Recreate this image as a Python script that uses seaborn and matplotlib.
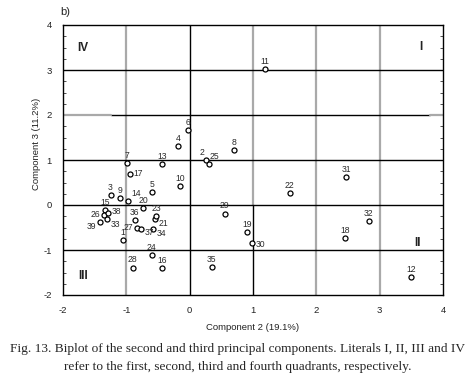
import matplotlib
matplotlib.use("Agg")
import matplotlib.pyplot as plt
import seaborn as sns
import pandas as pd

sample_ids = ["1", "2", "3", "4", "5", "6", "7", "8", "9", "10",
              "11", "12", "13", "14", "15", "16", "17", "18", "19", "20",
              "21", "22", "23", "24", "25", "26", "27", "28", "29", "30",
              "31", "32", "33", "34", "35", "36", "37", "38", "39"]
comp2 = [-1.05, 0.25, -1.25, -0.18, -0.60, -0.02, -0.99, 0.70, -1.10, -0.15,
         1.19, 3.50, -0.43, -0.97, -1.33, -0.44, -0.94, 2.45, 0.91, -0.73,
         -0.55, 1.58, -0.53, -0.60, 0.30, -1.36, -0.83, -0.90, 0.55, 0.99,
         2.47, 2.83, -1.31, -0.58, 0.35, -0.87, -0.77, -1.29, -1.42]
comp3 = [-0.78, 1.00, 0.23, 1.32, 0.29, 1.67, 0.93, 1.22, 0.16, 0.42,
         3.02, -1.61, 0.91, 0.10, -0.12, -1.40, 0.69, -0.73, -0.60, -0.06,
         -0.31, 0.26, -0.25, -1.12, 0.92, -0.22, -0.51, -1.39, -0.19, -0.84,
         0.63, -0.36, -0.32, -0.53, -1.37, -0.33, -0.53, -0.17, -0.38]

quadrant_labels = ["IV", "I", "II", "III"]
quadrant_x = [-1.68, 3.65, 3.60, -1.69]
quadrant_y = [3.49, 3.52, -0.84, -1.58]

x_ticks = [-2, -1, 0, 1, 2, 3, 4]
y_ticks = [-2, -1, 0, 1, 2, 3, 4]

# label placement (offset in points, horizontal alignment) for crowded points
label_place = {
    "15": ((0, 2.2), "center"),
    "26": ((-2.5, 0.0), "right"),
    "38": ((2.5, 0.5), "left"),
    "33": ((2.5, -3.5), "left"),
    "39": ((-2.5, -3.5), "right"),
    "21": ((3.0, -3.0), "left"),
    "23": ((0, 2.2), "center"),
    "27": ((-2.5, 0.0), "right"),
    "37": ((2.5, -2.5), "left"),
    "34": ((2.5, -3.0), "left"),
    "36": ((0, 2.2), "center"),
    "2": ((-1.0, 2.2), "right"),
    "25": ((1.0, 2.2), "left"),
    "30": ((2.5, -1.5), "left"),
    "19": ((0, 2.2), "center"),
    "7": ((0, 2.2), "center"),
    "17": ((2.5, 0.5), "left"),
    "9": ((0, 2.2), "center"),
    "14": ((2.0, 2.0), "left"),
}

df = pd.DataFrame({"id": sample_ids, "c2": comp2, "c3": comp3})

sns.set_style("white")
plt.rcParams["font.family"] = ["Liberation Sans", "DejaVu Sans"]

fig = plt.figure(figsize=(4.75, 3.88), dpi=100)
ax = fig.add_axes([63 / 475, 1 - 295 / 388, 380 / 475, 270 / 388])

ax.set_xlim(-2, 4)
ax.set_ylim(-2, 4)

gray = "#a9a9a9"
for xv in [-1, 2, 3]:
    ax.axvline(xv, color=gray, lw=1.6, zorder=1)
ax.plot([1, 1], [0, 4], color=gray, lw=1.6, zorder=1)
ax.plot([1, 1], [-2, 0], color="black", lw=1.0, zorder=1.5)
ax.axvline(0, color="black", lw=1.0, zorder=1.5)
for yv in [-1, 0, 1, 3]:
    ax.axhline(yv, color="black", lw=1.0, zorder=1.5)
ax.plot([-1.25, 3.8], [2, 2], color="black", lw=1.0, zorder=1.5)
ax.plot([-2, -1.25], [2, 2], color=gray, lw=1.6, zorder=1.5)
ax.plot([3.8, 4], [2, 2], color=gray, lw=1.6, zorder=1.5)

sns.scatterplot(data=df, x="c2", y="c3", ax=ax, marker="o", s=13,
                facecolor="white", edgecolor="black", linewidth=0.9,
                zorder=3, legend=False)

for sid, xv, yv in zip(sample_ids, comp2, comp3):
    off, ha = label_place.get(sid, ((0, 2.2), "center"))
    va = "bottom" if off[1] > 1.5 else "center"
    ax.annotate(sid, (xv, yv), xytext=off, textcoords="offset points",
                ha=ha, va=va, fontsize=6.2, color="#2a2a2a", zorder=4)

for lab, xv, yv in zip(quadrant_labels, quadrant_x, quadrant_y):
    ax.text(xv, yv, lab, ha="center", va="center", fontsize=8.5,
            fontweight="bold", color="#222222", zorder=4)

ax.set_xticks(x_ticks)
ax.set_yticks(y_ticks)
ax.set_xticklabels([str(t) for t in x_ticks])
ax.set_yticklabels([str(t) for t in y_ticks])
ax.tick_params(axis="both", labelsize=6.8, length=0, pad=8, colors="#222222")
ax.set_yticks([v / 4 for v in range(-8, 17)], minor=True)
ax.tick_params(axis="y", which="minor", direction="in", length=2.5,
               width=0.6, left=True, right=True, color="#333333")

for sp in ax.spines.values():
    sp.set_color("black")
    sp.set_linewidth(1.0)
    sp.set_visible(True)

ax.set_xlabel("Component 2 (19.1%)", fontsize=6.8, labelpad=6, color="#222222")
ax.set_ylabel("Component 3 (11.2%)", fontsize=6.8, labelpad=6, color="#222222")
ax.yaxis.set_label_coords(-0.058, 0.56)

fig.text(60 / 475, 1 - 12 / 388, "b)", fontsize=8, ha="left", va="center",
         color="#222222")

fig.text(0.5, 1 - 349 / 388,
         "Fig. 13. Biplot of the second and third principal components. Literals I, II, III and IV",
         fontsize=9.6, ha="center", va="center", family="Liberation Serif")
fig.text(0.5, 1 - 367 / 388,
         "refer to the first, second, third and fourth quadrants, respectively.",
         fontsize=9.6, ha="center", va="center", family="Liberation Serif")

fig.savefig("out.png", dpi=100)
